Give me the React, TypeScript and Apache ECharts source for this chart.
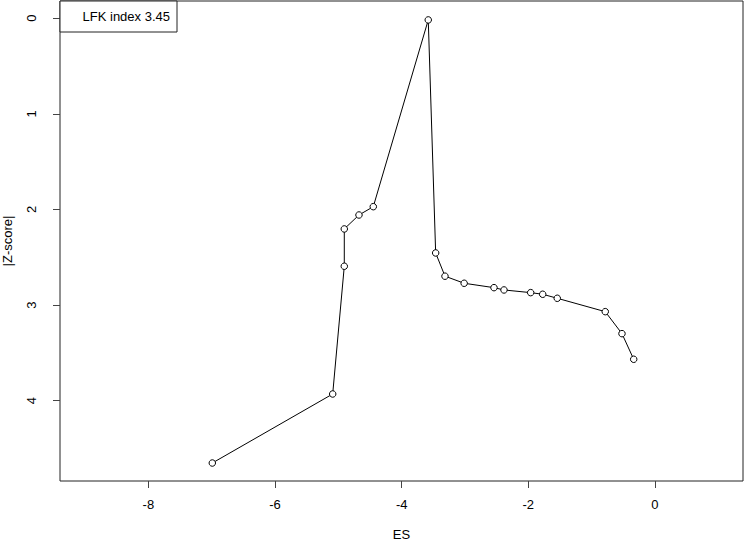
import React, { useEffect, useRef } from "react";
import * as echarts from "echarts";

// Doi plot data (ES vs |Z-score|), sorted by ES
const esValues = [
  -6.99, -5.089, -4.906, -4.906, -4.674, -4.448, -3.58, -3.463, -3.316,
  -3.013, -2.542, -2.384, -1.963, -1.773, -1.543, -0.785, -0.521, -0.336,
];
const zValues = [
  4.652, 3.93, 2.594, 2.204, 2.058, 1.971, 0.018, 2.455, 2.698, 2.772,
  2.818, 2.842, 2.87, 2.887, 2.929, 3.069, 3.299, 3.567,
];
const xTicks = [-8, -6, -4, -2, 0];
const yTicks = [0, 1, 2, 3, 4];
const legendText = "LFK index 3.45";
const xName = "ES";
const yName = "|Z-score|";

const FONT = "'Liberation Sans', Arial, sans-serif";

export default function App() {
  const ref = useRef<HTMLDivElement>(null);
  useEffect(() => {
    if (!ref.current) return;
    const chart = echarts.init(ref.current, undefined, { renderer: "svg" });
    const data = esValues.map((x, i) => [x, zValues[i]]);
    chart.setOption({
      animation: false,
      backgroundColor: "#fff",
      grid: {
        left: 60,
        right: 1,
        top: 1,
        bottom: 60,
        containLabel: false,
        outerBoundsMode: "none",
        show: true,
        borderColor: "#222",
        borderWidth: 1,
        backgroundColor: "transparent",
      },
      xAxis: {
        type: "value",
        min: -9.395,
        max: 1.39,
        name: xName,
        nameLocation: "middle",
        nameGap: 47,
        nameTextStyle: { fontFamily: FONT, fontSize: 13, color: "#000" },
        axisLine: { show: false, onZero: false },
        splitLine: { show: false },
        axisTick: {
          show: true,
          length: 7,
          inside: false,
          customValues: xTicks,
          lineStyle: { color: "#444", width: 1 },
        },
        axisLabel: {
          customValues: xTicks,
          margin: 17,
          fontFamily: FONT,
          fontSize: 13,
          color: "#000",
        },
      },
      yAxis: {
        type: "value",
        inverse: true,
        min: -0.18,
        max: 4.84,
        name: yName,
        nameLocation: "middle",
        nameRotate: 90,
        nameGap: 46,
        nameTextStyle: { fontFamily: FONT, fontSize: 13, color: "#000" },
        axisLine: { show: false, onZero: false },
        splitLine: { show: false },
        axisTick: {
          show: true,
          length: 7,
          inside: false,
          customValues: yTicks,
          lineStyle: { color: "#444", width: 1 },
        },
        axisLabel: {
          customValues: yTicks,
          rotate: 90,
          margin: 22,
          fontFamily: FONT,
          fontSize: 13,
          color: "#000",
        },
      },
      series: [
        {
          type: "line",
          data,
          symbol: "circle",
          symbolSize: 6.5,
          showSymbol: true,
          lineStyle: { color: "#000", width: 1 },
          itemStyle: { color: "#fff", borderColor: "#000", borderWidth: 1 },
          emphasis: { disabled: true },
          z: 3,
        },
      ],
      graphic: [
        {
          type: "rect",
          shape: { x: 60, y: 1, width: 117, height: 31 },
          style: { fill: "#fff", stroke: "#222", lineWidth: 1 },
          z: 10,
        },
        {
          type: "text",
          x: 170,
          y: 16.5,
          style: {
            text: legendText,
            fontFamily: FONT,
            fontSize: 13,
            fill: "#000",
            align: "right",
            verticalAlign: "middle",
          },
          z: 11,
        },
      ],
    });
    return () => chart.dispose();
  }, []);
  return <div ref={ref} style={{ width: 744, height: 541, position: "absolute", left: 0, top: 0 }} />;
}
